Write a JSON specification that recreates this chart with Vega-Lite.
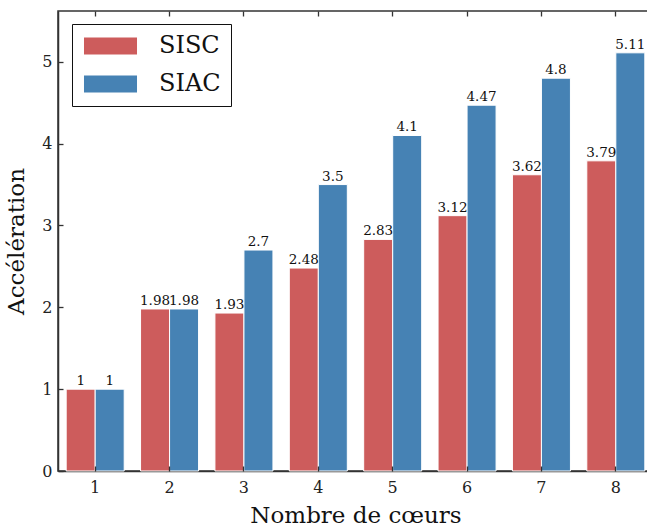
{
  "$schema": "https://vega.github.io/schema/vega-lite/v6.json",
  "width": 595,
  "height": 460,
  "autosize": {"type": "none"},
  "padding": {"left": 58, "top": 11, "right": 0, "bottom": 61},
  "background": "white",
  "config": {
    "font": "DejaVu Serif",
    "view": {"stroke": "#333333", "strokeWidth": 1.5},
    "axis": {"grid": false, "domainColor": "#333333", "domainWidth": 1.5, "labelColor": "#222222", "titleColor": "#111111", "labelFont": "DejaVu Serif", "titleFont": "DejaVu Serif", "labelFontSize": 16, "titleFontSize": 23, "titleFontWeight": "normal"}
  },
  "data": {"values": [
    {"n": "1", "s": "SISC", "v": 1}, {"n": "1", "s": "SIAC", "v": 1},
    {"n": "2", "s": "SISC", "v": 1.98}, {"n": "2", "s": "SIAC", "v": 1.98},
    {"n": "3", "s": "SISC", "v": 1.93}, {"n": "3", "s": "SIAC", "v": 2.7},
    {"n": "4", "s": "SISC", "v": 2.48}, {"n": "4", "s": "SIAC", "v": 3.5},
    {"n": "5", "s": "SISC", "v": 2.83}, {"n": "5", "s": "SIAC", "v": 4.1},
    {"n": "6", "s": "SISC", "v": 3.12}, {"n": "6", "s": "SIAC", "v": 4.47},
    {"n": "7", "s": "SISC", "v": 3.62}, {"n": "7", "s": "SIAC", "v": 4.8},
    {"n": "8", "s": "SISC", "v": 3.79}, {"n": "8", "s": "SIAC", "v": 5.11}
  ]},
  "encoding": {
    "xOffset": {"field": "s", "type": "nominal", "sort": ["SISC", "SIAC"]}
  },
  "layer": [
    {
      "mark": {"type": "bar", "stroke": "white", "strokeWidth": 1},
      "encoding": {
        "x": {"field": "n", "type": "ordinal", "sort": null, "scale": {"paddingInner": 0.22, "paddingOuter": 0.11}, "axis": {"orient": "bottom", "title": "Nombre de cœurs", "labelAngle": 0, "ticks": false, "labelPadding": 8, "titlePadding": 9}},
        "y": {"field": "v", "type": "quantitative", "scale": {"domain": [0, 5.621], "nice": false}, "axis": {"orient": "left", "title": "Accélération", "values": [0,1,2,3,4,5], "ticks": false, "labelPadding": 6, "titlePadding": 13}},
        "color": {"field": "s", "type": "nominal", "sort": ["SISC", "SIAC"], "scale": {"domain": ["SISC", "SIAC"], "range": ["#CD5C5C", "#4682B4"]},
          "legend": {"title": null, "orient": "none", "legendX": 14, "legendY": 13, "strokeColor": "#111111", "fillColor": "white", "padding": 10, "symbolType": "M-0.87,-0.74H3.74V0.74H-0.87Z", "symbolSize": 529, "symbolStrokeWidth": 0, "symbolOpacity": 1, "labelFont": "DejaVu Serif", "labelFontSize": 24, "labelColor": "#111111", "labelOffset": 53, "rowPadding": 14}}
      }
    },
    {
      "mark": {"type": "text", "baseline": "bottom", "dy": -1, "fontSize": 13.5, "color": "#111111"},
      "encoding": {
        "x": {"field": "n", "type": "ordinal", "sort": null, "axis": {"orient": "bottom", "offset": -5, "title": null, "labels": false, "domain": false, "ticks": true, "tickColor": "#333333", "tickWidth": 1.3, "tickSize": 5, "zindex": 2}},
        "y": {"field": "v", "type": "quantitative", "axis": {"orient": "left", "offset": -5, "title": null, "labels": false, "domain": false, "ticks": true, "tickColor": "#333333", "tickWidth": 1.3, "tickSize": 5, "values": [0,1,2,3,4,5], "zindex": 2}},
        "text": {"field": "v", "type": "quantitative"}
      }
    },
    {
      "mark": {"type": "bar", "opacity": 0},
      "encoding": {
        "x": {"field": "n", "type": "ordinal", "sort": null, "axis": {"orient": "top", "offset": -5, "title": null, "labels": false, "domain": false, "ticks": true, "tickColor": "#333333", "tickWidth": 1.3, "tickSize": 5, "zindex": 2}},
        "y": {"field": "v", "type": "quantitative", "axis": null}
      }
    }
  ],
  "resolve": {"axis": {"x": "independent", "y": "independent"}}
}
